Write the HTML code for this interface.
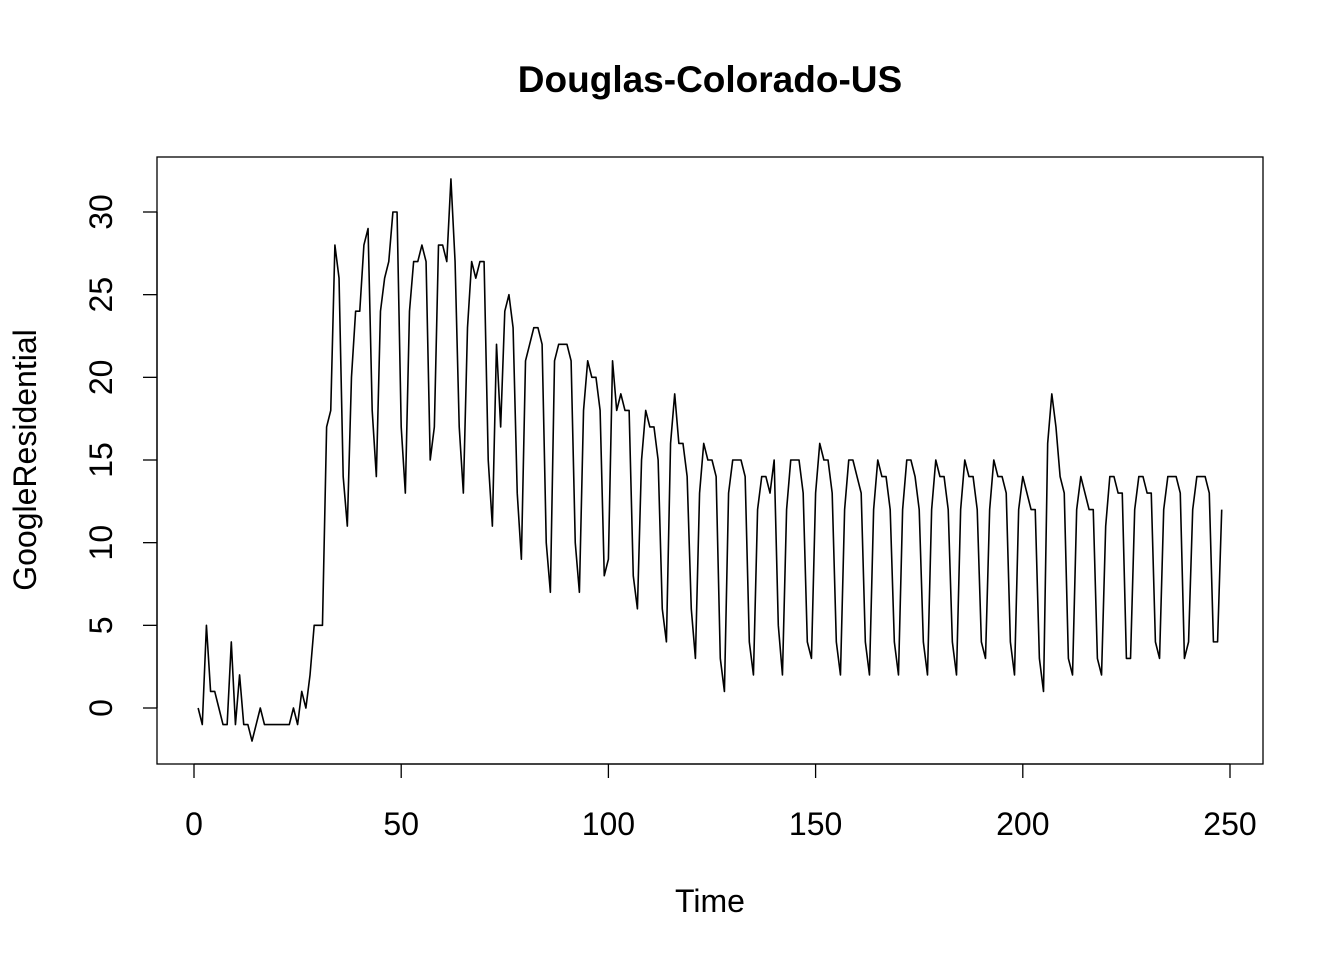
<!DOCTYPE html>
<html><head><meta charset="utf-8"><style>
body{margin:0;background:#fff}
svg{display:block;font-family:"Liberation Sans",Arial,sans-serif}
</style></head><body>
<svg id="chart" width="1344" height="960">
<text x="710" y="92" text-anchor="middle" font-size="37" font-weight="bold">Douglas-Colorado-US</text>
<rect x="157" y="157" width="1106" height="607" fill="none" stroke="#000" stroke-width="1.3"/>
<g id="xaxis"></g>
<g id="yaxis"></g>
<text x="710" y="912" text-anchor="middle" font-size="32">Time</text>
<text transform="translate(36,460) rotate(-90)" text-anchor="middle" font-size="32">GoogleResidential</text>
<g id="series"></g>
</svg>
<script>
const values=[0,-1,5,1,1,0,-1,-1,4,-1,2,-1,-1,-2,-1,0,-1,-1,-1,-1,-1,-1,-1,0,-1,1,0,2,5,5,5,17,18,28,26,14,11,20,24,24,28,29,18,14,24,26,27,30,30,17,13,24,27,27,28,27,15,17,28,28,27,32,27,17,13,23,27,26,27,27,15,11,22,17,24,25,23,13,9,21,22,23,23,22,10,7,21,22,22,22,21,10,7,18,21,20,20,18,8,9,21,18,19,18,18,8,6,15,18,17,17,15,6,4,16,19,16,16,14,6,3,13,16,15,15,14,3,1,13,15,15,15,14,4,2,12,14,14,13,15,5,2,12,15,15,15,13,4,3,13,16,15,15,13,4,2,12,15,15,14,13,4,2,12,15,14,14,12,4,2,12,15,15,14,12,4,2,12,15,14,14,12,4,2,12,15,14,14,12,4,3,12,15,14,14,13,4,2,12,14,13,12,12,3,1,16,19,17,14,13,3,2,12,14,13,12,12,3,2,11,14,14,13,13,3,3,12,14,14,13,13,4,3,12,14,14,14,13,3,4,12,14,14,14,13,4,4,12];
const xTicks=[0,50,100,150,200,250];
const yTicks=[0,5,10,15,20,25,30];
const NS='http://www.w3.org/2000/svg';
const xs=v=>194+v*(1230-194)/250;
const ys=v=>708-v*(708-212)/30;
const xa=document.getElementById('xaxis'),ya=document.getElementById('yaxis'),sg=document.getElementById('series');
function mk(t,a){const e=document.createElementNS(NS,t);for(const k in a)e.setAttribute(k,a[k]);return e;}
const xl=mk('line',{x1:xs(0),x2:xs(250),y1:764,y2:764,stroke:'#000','stroke-width':1.3});xa.appendChild(xl);
xTicks.forEach(t=>{const l=mk('line',{x1:xs(t),x2:xs(t),y1:764,y2:778,stroke:'#000','stroke-width':1.3});


xa.appendChild(l);
const tx=mk('text',{x:xs(t),y:835,'text-anchor':'middle','font-size':32});tx.textContent=t;


xa.appendChild(tx);});
const yl=mk('line',{x1:157,x2:157,y1:ys(0),y2:ys(30),stroke:'#000','stroke-width':1.3});ya.appendChild(yl);
yTicks.forEach(t=>{const l=mk('line',{x1:143,x2:157,y1:ys(t),y2:ys(t),stroke:'#000','stroke-width':1.3});


ya.appendChild(l);
const tx=mk('text',{transform:`translate(112,${ys(t)}) rotate(-90)`,'text-anchor':'middle','font-size':32});tx.textContent=t;


ya.appendChild(tx);});
const pts=values.map((v,i)=>xs(i+1).toFixed(2)+','+ys(v).toFixed(2)).join(' ');
const pl=mk('polyline',{points:pts,fill:'none',stroke:'#000','stroke-width':1.6,'stroke-linejoin':'round'});


sg.appendChild(pl);
</script>
</body></html>
